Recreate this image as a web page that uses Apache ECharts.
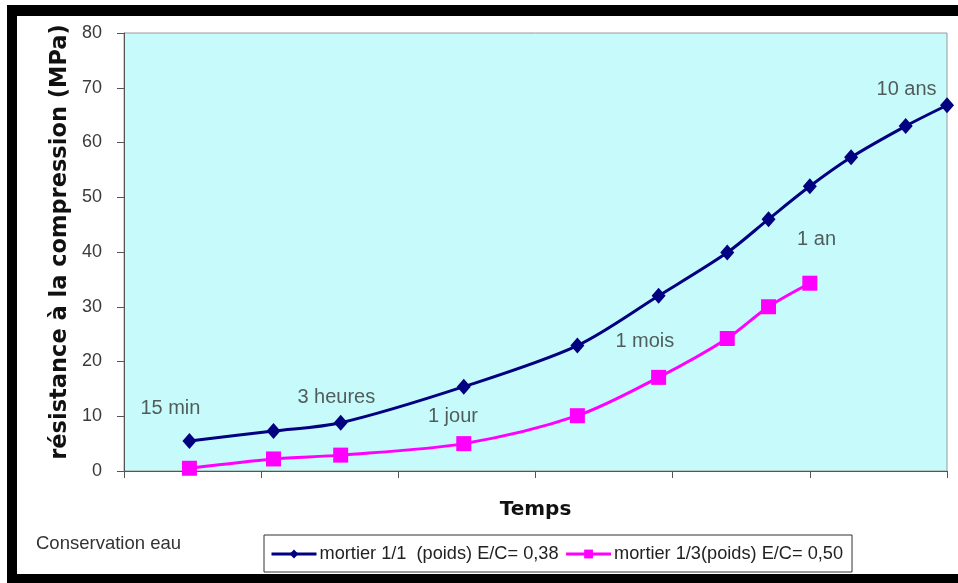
<!DOCTYPE html>
<html>
<head>
<meta charset="utf-8">
<script src="https://cdn.jsdelivr.net/npm/echarts@6/dist/echarts.min.js"></script>
<style>
  html, body { margin: 0; padding: 0; background: #ffffff; }
  #chart { width: 958px; height: 583px; }
</style>
</head>
<body>
<div id="chart"></div>
<script>
// Age of the mortar (years, log scale) and compressive strength (MPa)
const ageYears = [3.0e-5, 1.23e-4, 3.8e-4, 0.003, 0.0202, 0.079, 0.25, 0.5, 1, 2, 5, 10];
const mortier11 = [5.5, 7.3, 8.8, 15.4, 22.9, 32.0, 39.9, 46.0, 52.0, 57.3, 63.0, 66.8];
const mortier13 = [0.5, 2.2, 2.9, 5.0, 10.1, 17.1, 24.2, 30.0, 34.3];

const seriesNames = ['mortier 1/1  (poids) E/C= 0,38', 'mortier 1/3(poids) E/C= 0,50'];

// Age milestones written inside the plot
const stageLabels = ['15 min', '3 heures', '1 jour', '1 mois', '1 an', '10 ans'];
const stageAge = [2.18e-5, 3.53e-4, 2.5e-3, 0.0627, 1.12, 5.07];
const stageMPa = [11.5, 13.5, 10.0, 23.7, 42.2, 69.6];

const yTicks = { min: 0, max: 80, interval: 10 };

const FONT = "'Liberation Sans', Arial, sans-serif";
const BOLD_FONT = "'DejaVu Sans', 'Liberation Sans', sans-serif";

const pairs = (xs, ys) => ys.map((v, i) => [xs[i], v]);

const chart = echarts.init(document.getElementById('chart'), null, { renderer: 'canvas' });

chart.setOption({
  animation: false,
  backgroundColor: '#ffffff',
  grid: {
    left: 124, right: 11, top: 33, bottom: 112,
    show: true,
    backgroundColor: '#c7fbfb',
    borderColor: '#9a9a9a',
    borderWidth: 1
  },
  xAxis: {
    type: 'log',
    logBase: 10,
    min: 1e-5,
    max: 10,
    name: 'Temps',
    nameLocation: 'middle',
    nameGap: 29,
    nameTextStyle: { fontFamily: BOLD_FONT, fontWeight: 'bold', fontSize: 20, color: '#111' },
    axisLine: { show: true, lineStyle: { color: '#555', width: 1 } },
    axisTick: { show: true, inside: false, length: 7, lineStyle: { color: '#555' } },
    axisLabel: { show: false },
    splitLine: { show: false },
    minorTick: { show: false }
  },
  yAxis: {
    type: 'value',
    min: yTicks.min,
    max: yTicks.max,
    interval: yTicks.interval,
    axisLine: { show: true, lineStyle: { color: '#555', width: 1 } },
    axisTick: { show: true, inside: false, length: 7, lineStyle: { color: '#555' } },
    axisLabel: { margin: 22, fontFamily: FONT, fontSize: 18, color: '#3a3a3a' },
    splitLine: { show: false }
  },
  legend: {
    data: seriesNames,
    left: 264,
    top: 535,
    orient: 'horizontal',
    padding: [10, 9, 9, 6],
    itemGap: 6,
    itemWidth: 45,
    itemHeight: 11,
    lineStyle: { width: 3 },
    backgroundColor: '#ffffff',
    borderColor: '#333',
    borderWidth: 1,
    borderRadius: 0,
    textStyle: { fontFamily: FONT, fontSize: 18.2, color: '#222', padding: [0, 0, 0, -2] }
  },
  graphic: [
    // black frame
    { type: 'rect', shape: { x: 7, y: 5, width: 951, height: 11 }, style: { fill: '#000' }, z: 100 },
    { type: 'rect', shape: { x: 7, y: 5, width: 10, height: 578 }, style: { fill: '#000' }, z: 100 },
    { type: 'rect', shape: { x: 7, y: 574, width: 951, height: 9 }, style: { fill: '#000' }, z: 100 },
    {
      type: 'text',
      x: 60, y: 242,
      rotation: Math.PI / 2,
      style: {
        text: 'résistance à la compression (MPa)',
        fontFamily: BOLD_FONT, fontWeight: 'bold', fontSize: 22.5, fill: '#111',
        align: 'center', verticalAlign: 'middle'
      },
      z: 50
    },
    {
      type: 'text',
      x: 36, y: 544,
      style: {
        text: 'Conservation eau',
        fontFamily: FONT, fontSize: 18.5, fill: '#333',
        align: 'left', verticalAlign: 'middle'
      },
      z: 50
    }
  ],
  series: [
    {
      name: seriesNames[0],
      type: 'line',
      data: pairs(ageYears, mortier11),
      smooth: 0.3,
      symbol: 'diamond',
      symbolSize: [14, 16],
      lineStyle: { color: '#000080', width: 3 },
      itemStyle: { color: '#000080' },
      z: 3
    },
    {
      name: seriesNames[1],
      type: 'line',
      data: pairs(ageYears, mortier13),
      smooth: 0.3,
      symbol: 'rect',
      symbolSize: 15,
      lineStyle: { color: '#ff00ff', width: 3 },
      itemStyle: { color: '#ff00ff' },
      z: 2
    },
    {
      name: 'étapes',
      type: 'scatter',
      silent: true,
      symbolSize: 1,
      itemStyle: { color: 'rgba(0,0,0,0)' },
      data: stageLabels.map((t, i) => ({ value: [stageAge[i], stageMPa[i]], name: t })),
      label: {
        show: true,
        position: 'inside',
        formatter: p => p.name,
        fontFamily: FONT,
        fontSize: 20,
        color: '#333'
      },
      z: 4
    }
  ]
});
</script>
</body>
</html>
